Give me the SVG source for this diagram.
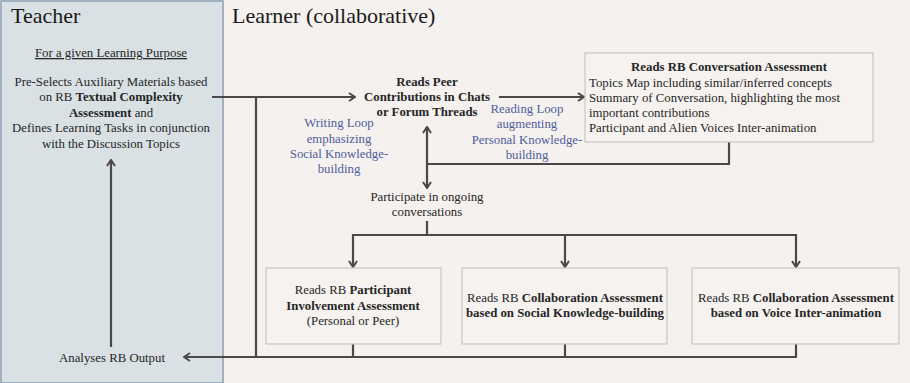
<svg xmlns="http://www.w3.org/2000/svg" width="910" height="383" viewBox="0 0 910 383">
<defs>
<style>
text{font-family:"Liberation Serif","Times New Roman",serif;fill:#262626;}
.t{font-size:12.8px;}
.b{font-weight:bold;}
.h{font-size:22px;fill:#1a1a1a;}
.blue{fill:#4f5d9c;font-size:12.8px;}
.ln{fill:none;stroke:#4a4848;stroke-width:2.2;}
.box{fill:#f5f2ef;stroke:#c9c6c3;stroke-width:1.2;}
</style>
<marker id="ah" viewBox="0 0 10 10" refX="9" refY="5" markerWidth="10" markerHeight="10" markerUnits="userSpaceOnUse" orient="auto-start-reverse">
<polyline points="3,1 9,5 3,9" fill="none" stroke="#4a4848" stroke-width="2"/>
</marker>
</defs>
<rect x="0" y="0" width="910" height="383" fill="#f4f1ee"/>
<g id="teacher-panel">
<rect x="1" y="1" width="222" height="382" fill="#d9e1e4" stroke="#8a9db2" stroke-width="1.5"/>
<text class="h" x="11" y="23">Teacher</text>
</g>
<g id="learner-panel">
<text class="h" x="232" y="23">Learner (collaborative)</text>
</g>
<g id="connectors">
<line class="ln" x1="212" y1="97" x2="355" y2="97" marker-end="url(#ah)"/>
<line class="ln" x1="256" y1="97" x2="256" y2="357"/>
<line class="ln" x1="499" y1="97" x2="584" y2="97" marker-end="url(#ah)"/>
<line class="ln" x1="427" y1="127" x2="427" y2="188" marker-start="url(#ah)" marker-end="url(#ah)"/>
<polyline class="ln" points="427,164 729,164 729,142"/>
<line class="ln" x1="427" y1="221" x2="427" y2="235"/>
<polyline class="ln" points="353,267 353,235 796,235 796,267" marker-start="url(#ah)" marker-end="url(#ah)"/>
<line class="ln" x1="565" y1="235" x2="565" y2="267" marker-end="url(#ah)"/>
<line class="ln" x1="353" y1="344" x2="353" y2="357"/>
<line class="ln" x1="565" y1="344" x2="565" y2="357"/>
<line class="ln" x1="796" y1="344" x2="796" y2="357"/>
<line class="ln" x1="797" y1="357" x2="184" y2="357" marker-end="url(#ah)"/>
<line class="ln" x1="111" y1="347" x2="111" y2="160" marker-end="url(#ah)"/>
</g>
<g id="teacher-prep">
<text class="t" x="111" y="57" text-anchor="middle" text-decoration="underline">For a given Learning Purpose</text>
<text class="t" x="111" y="86" text-anchor="middle">Pre-Selects Auxiliary Materials based</text>
<text class="t" x="111" y="101" text-anchor="middle">on RB <tspan class="b">Textual Complexity</tspan></text>
<text class="t" x="111" y="117" text-anchor="middle"><tspan class="b">Assessment</tspan> and</text>
<text class="t" x="111" y="132" text-anchor="middle">Defines Learning Tasks in conjunction</text>
<text class="t" x="111" y="148" text-anchor="middle">with the Discussion Topics</text>
</g>
<g id="teacher-analyses">
<text class="t" x="112" y="362" text-anchor="middle">Analyses RB Output</text>
</g>
<g id="reads-peer">
<text class="t b" x="427" y="86" text-anchor="middle">Reads Peer</text>
<text class="t b" x="427" y="101" text-anchor="middle">Contributions in Chats</text>
<text class="t b" x="427" y="116" text-anchor="middle">or Forum Threads</text>
</g>
<g id="writing-loop">
<text class="blue" x="339" y="127" text-anchor="middle">Writing Loop</text>
<text class="blue" x="339" y="143" text-anchor="middle">emphasizing</text>
<text class="blue" x="339" y="158" text-anchor="middle">Social Knowledge-</text>
<text class="blue" x="339" y="173" text-anchor="middle">building</text>
</g>
<g id="reading-loop">
<text class="blue" x="527" y="113" text-anchor="middle">Reading Loop</text>
<text class="blue" x="527" y="128" text-anchor="middle">augmenting</text>
<text class="blue" x="527" y="144" text-anchor="middle">Personal Knowledge-</text>
<text class="blue" x="527" y="159" text-anchor="middle">building</text>
</g>
<g id="conversation-assessment">
<rect class="box" x="585" y="53" width="288" height="89"/>
<text class="t b" x="729" y="71" text-anchor="middle">Reads RB Conversation Assessment</text>
<text class="t" x="589" y="87">Topics Map including similar/inferred concepts</text>
<text class="t" x="589" y="102">Summary of Conversation, highlighting the most</text>
<text class="t" x="589" y="117">important contributions</text>
<text class="t" x="589" y="132">Participant and Alien Voices Inter-animation</text>
</g>
<g id="participate">
<text class="t" x="427" y="201" text-anchor="middle">Participate in ongoing</text>
<text class="t" x="427" y="216" text-anchor="middle">conversations</text>
</g>
<g id="involvement">
<rect class="box" x="266" y="268" width="175" height="76"/>
<text class="t" x="353" y="294" text-anchor="middle">Reads RB <tspan class="b">Participant</tspan></text>
<text class="t b" x="353" y="310" text-anchor="middle">Involvement Assessment</text>
<text class="t" x="353" y="325" text-anchor="middle">(Personal or Peer)</text>
</g>
<g id="collab-social">
<rect class="box" x="462" y="268" width="205" height="76"/>
<text class="t" x="565" y="302" text-anchor="middle">Reads RB <tspan class="b">Collaboration Assessment</tspan></text>
<text class="t b" x="565" y="317" text-anchor="middle">based on Social Knowledge-building</text>
</g>
<g id="collab-voice">
<rect class="box" x="692" y="268" width="207" height="76"/>
<text class="t" x="796" y="302" text-anchor="middle">Reads RB <tspan class="b">Collaboration Assessment</tspan></text>
<text class="t b" x="796" y="317" text-anchor="middle">based on Voice Inter-animation</text>
</g>
</svg>
